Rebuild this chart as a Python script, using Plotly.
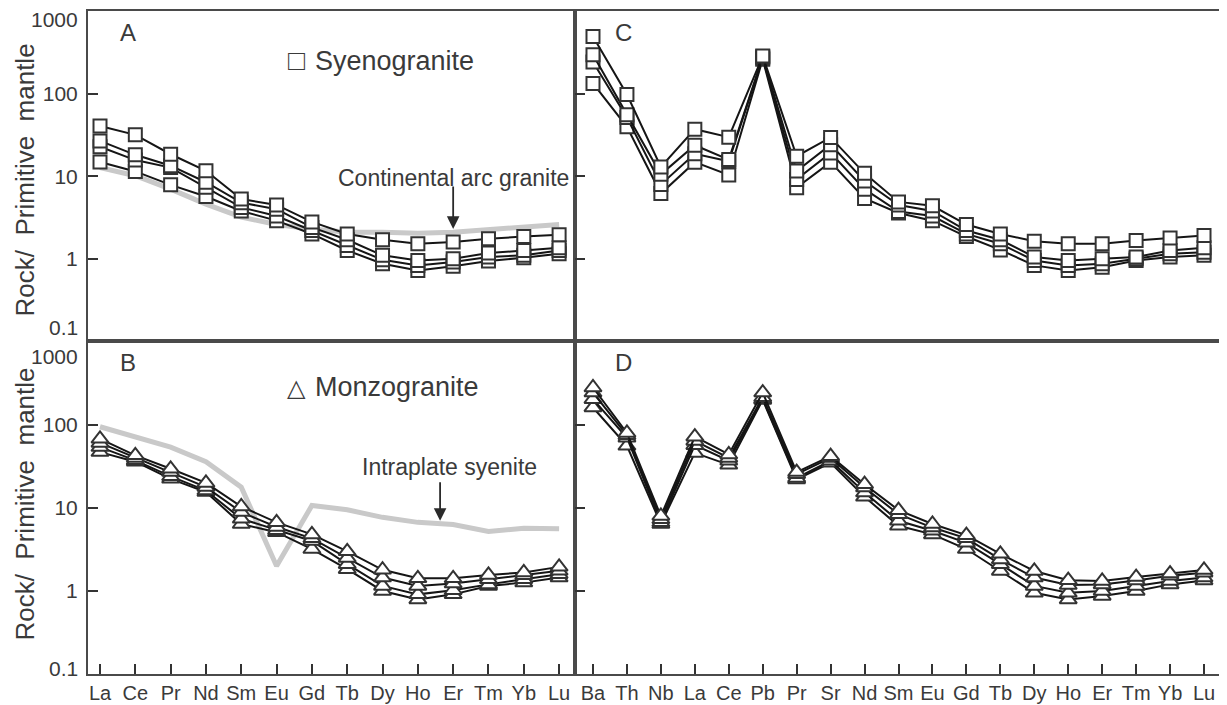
import plotly.graph_objects as go
import math

# ---------------- data ----------------
ree = ["La", "Ce", "Pr", "Nd", "Sm", "Eu", "Gd", "Tb", "Dy", "Ho", "Er", "Tm", "Yb", "Lu"]
spider = ["Ba", "Th", "Nb", "La", "Ce", "Pb", "Pr", "Sr", "Nd", "Sm", "Eu", "Gd", "Tb",
          "Dy", "Ho", "Er", "Tm", "Yb", "Lu"]

# Panel A: syenogranite, REE / primitive mantle
syeno_ree_1 = [41, 32, 18.6, 11.7, 5.3, 4.5, 2.8, 2.0, 1.7, 1.52, 1.6, 1.75, 1.86, 1.95]
syeno_ree_2 = [27, 18.3, 13.5, 8.5, 4.8, 4.0, 2.4, 1.7, 1.1, 0.95, 1.0, 1.17, 1.26, 1.36]
syeno_ree_3 = [22.9, 15.8, 12.8, 7.4, 4.2, 3.3, 2.2, 1.45, 0.97, 0.83, 0.91, 1.05, 1.1, 1.26]
syeno_ree_4 = [15, 11.5, 7.9, 5.7, 3.8, 2.9, 2.0, 1.26, 0.87, 0.72, 0.81, 0.94, 1.03, 1.15]
continental_arc_granite = [12.8, 10.2, 7.0, 4.6, 3.2, 2.6, 2.3, 2.1, 2.1, 2.04, 2.1, 2.24, 2.4, 2.6]

# Panel B: monzogranite, REE / primitive mantle
monzo_ree_1 = [68, 43, 29.6, 20, 10.4, 6.7, 4.8, 3.0, 1.8, 1.42, 1.42, 1.56, 1.67, 1.95]
monzo_ree_2 = [60.6, 40, 27, 17.8, 8.9, 5.9, 4.3, 2.5, 1.45, 1.15, 1.23, 1.38, 1.55, 1.75]
monzo_ree_3 = [54, 37.4, 24, 16.2, 7.4, 5.4, 4.0, 2.1, 1.15, 0.91, 1.02, 1.2, 1.38, 1.59]
monzo_ree_4 = [47, 36, 22.4, 15.5, 6.4, 5.1, 3.2, 1.83, 1.0, 0.79, 0.91, 1.15, 1.26, 1.45]
intraplate_syenite = [95, 72, 54, 36, 17.8, 2.0, 10.7, 9.5, 7.7, 6.7, 6.3, 5.2, 5.7, 5.6]

# Panel C: syenogranite, trace elements / primitive mantle
syeno_tr_1 = [500, 99, 13, 37.5, 30, 290, 17.6, 29.8, 10.9, 4.9, 4.4, 2.6, 2.0, 1.63, 1.52, 1.52, 1.66, 1.79, 1.91]
syeno_tr_2 = [300, 56, 10.6, 23.9, 16, 285, 11.6, 24.3, 8.8, 4.5, 3.8, 2.2, 1.7, 1.05, 0.95, 1.0, 1.05, 1.26, 1.36]
syeno_tr_3 = [245, 52, 8.0, 18.8, 15.3, 275, 9.2, 19.3, 7.0, 3.75, 3.3, 2.0, 1.52, 0.95, 0.83, 0.87, 1.0, 1.15, 1.2]
syeno_tr_4 = [135, 40, 6.2, 14.9, 10.4, 265, 7.3, 14.9, 5.4, 3.6, 2.9, 1.86, 1.28, 0.83, 0.72, 0.79, 0.95, 1.05, 1.1]

# Panel D: monzogranite, trace elements / primitive mantle
monzo_tr_1 = [282, 80, 8.0, 72, 44, 245, 27, 42, 19.3, 9.4, 6.4, 4.7, 2.8, 1.74, 1.35, 1.32, 1.47, 1.62, 1.79]
monzo_tr_2 = [245, 75, 7.3, 64, 40, 215, 25.5, 40, 17.6, 8.4, 5.8, 4.3, 2.4, 1.45, 1.18, 1.2, 1.34, 1.52, 1.66]
monzo_tr_3 = [204, 70, 6.7, 57, 37, 205, 23, 37, 15.3, 7.0, 5.3, 3.8, 2.1, 1.15, 0.95, 1.0, 1.15, 1.32, 1.45]
monzo_tr_4 = [162, 56, 6.4, 46, 33, 200, 22, 35, 13.6, 6.1, 4.8, 3.2, 1.74, 0.95, 0.79, 0.87, 1.0, 1.2, 1.34]

y_ticks = [1, 10, 100]

# ---------------- style ----------------
FONT = "Liberation Sans, Arial, sans-serif"
TXT = "#3a3a3a"
FRAME = "#4a4a4a"
LINE = "#151515"
GREY = "#c9c9c9"

fig = go.Figure()

def add_series(x, y, xa, ya, symbol, size):
    fig.add_trace(go.Scatter(
        x=x, y=y, xaxis=xa, yaxis=ya, mode="lines+markers",
        line=dict(color=LINE, width=2),
        marker=dict(symbol=symbol, size=size, color="white",
                    line=dict(color="#333333", width=2)),
        showlegend=False, hoverinfo="skip"))

def add_grey(x, y, xa, ya):
    fig.add_trace(go.Scatter(
        x=x, y=y, xaxis=xa, yaxis=ya, mode="lines",
        line=dict(color=GREY, width=5), showlegend=False, hoverinfo="skip"))

# A
add_grey(ree, continental_arc_granite, "x", "y")
for s in [syeno_ree_4, syeno_ree_3, syeno_ree_2, syeno_ree_1]:
    add_series(ree, s, "x", "y", "square", 13)
# C
for s in [syeno_tr_4, syeno_tr_3, syeno_tr_2, syeno_tr_1]:
    add_series(spider, s, "x2", "y2", "square", 13)
# B
add_grey(ree, intraplate_syenite, "x3", "y3")
for s in [monzo_ree_4, monzo_ree_3, monzo_ree_2, monzo_ree_1]:
    add_series(ree, s, "x3", "y3", "triangle-up", 15)
# D
for s in [monzo_tr_4, monzo_tr_3, monzo_tr_2, monzo_tr_1]:
    add_series(spider, s, "x4", "y4", "triangle-up", 15)

# The page body has an 8px margin, so the figure is 8px smaller than the window
W, H = 1219, 697
ML, MT, MR, MB = 80, 1, 5, 27
PW = W - ML - MR        # 1134
PH = H - MT - MB        # 669

def px_x(page_x):
    return (page_x - 8 - ML) / PW

def px_y(page_y):
    return (H - MB - (page_y - 8)) / PH

XSPLIT = px_x(575)
YSPLIT = px_y(342)
YR = [-1.0, 3.01]

def xax(domain, cats, rng, anchor, labels):
    return dict(domain=domain, anchor=anchor, type="category",
                categoryorder="array", categoryarray=cats, range=rng,
                showline=True, mirror=True, linecolor=FRAME, linewidth=2,
                showgrid=False, zeroline=False,
                ticks="inside" if labels else "", ticklen=10, tickwidth=1.5,
                tickcolor="#333", showticklabels=labels,
                tickfont=dict(family=FONT, size=20, color=TXT))

def yax(domain, anchor, labels):
    return dict(domain=domain, anchor=anchor, type="log", range=YR,
                tickvals=y_ticks, ticktext=[str(v) for v in y_ticks],
                showline=True, mirror=True, linecolor=FRAME, linewidth=2,
                showgrid=False, zeroline=False,
                ticks="inside", ticklen=10, tickwidth=1.5, tickcolor="#333",
                showticklabels=labels, ticklabelstandoff=4,
                tickfont=dict(family=FONT, size=21, color=TXT))

left_rng = [-0.34, 13.45]
right_rng = [-0.53, 18.53]

annotations = []

def ann(text, x, y, xref, yref, size, xanchor="center", yanchor="middle", angle=0):
    annotations.append(dict(text=text, x=x, y=y, xref=xref, yref=yref,
                            showarrow=False, xanchor=xanchor, yanchor=yanchor,
                            textangle=angle,
                            font=dict(family=FONT, size=size, color=TXT)))

# y-extreme labels (placed slightly inside the frame like the original)
for txt, ypx in [("1000", 18), ("0.1", 328), ("1000", 358), ("0.1", 672)]:
    ann(txt, px_x(80), px_y(ypx), "paper", "paper", 21, xanchor="right")

# y titles
for ypx in [180, 507]:
    ann("Rock/  Primitive  mantle", px_x(25), px_y(ypx), "paper", "paper", 26, angle=-90)

# panel letters
LW = 575 - 88
RW = 1222 - 575
ann("A", (128 - 88) / LW, math.log10(560), "x domain", "y", 24)
ann("B", (128 - 88) / LW, math.log10(560), "x3 domain", "y3", 24)
ann("C", (623 - 575) / RW, math.log10(560), "x2 domain", "y2", 24)
ann("D", (623 - 575) / RW, math.log10(560), "x4 domain", "y4", 24)

# legend-like labels
ann("□", (296 - 88) / LW, math.log10(255), "x domain", "y", 28)
ann("Syenogranite", (313 - 88) / LW, math.log10(250), "x domain", "y", 27, xanchor="left")
ann("△", (296 - 88) / LW, math.log10(280), "x3 domain", "y3", 24)
ann("Monzogranite", (313 - 88) / LW, math.log10(285), "x3 domain", "y3", 27, xanchor="left")

# reference-curve labels and arrows
ann("Continental arc granite", 10, math.log10(9.7), "x", "y", 23)
ann("Intraplate syenite", 9.9, math.log10(31), "x3", "y3", 23)
annotations.append(dict(x=10, y=math.log10(2.3), xref="x", yref="y", text="",
                        showarrow=True, arrowhead=2, arrowsize=1.4, arrowwidth=1.8,
                        arrowcolor="#2a2a2a", ax=0, ay=-44))
annotations.append(dict(x=9.63, y=math.log10(7.0), xref="x3", yref="y3", text="",
                        showarrow=True, arrowhead=2, arrowsize=1.4, arrowwidth=1.8,
                        arrowcolor="#2a2a2a", ax=0, ay=-40))

fig.update_layout(
    width=W, height=H,
    margin=dict(l=ML, r=MR, t=MT, b=MB),
    paper_bgcolor="white", plot_bgcolor="white",
    showlegend=False,
    xaxis=xax([0, XSPLIT], ree, left_rng, "y", False),
    yaxis=yax([YSPLIT, 1], "x", True),
    xaxis2=xax([XSPLIT, 1], spider, right_rng, "y2", False),
    yaxis2=yax([YSPLIT, 1], "x2", False),
    xaxis3=xax([0, XSPLIT], ree, left_rng, "y3", True),
    yaxis3=yax([0, YSPLIT], "x3", True),
    xaxis4=xax([XSPLIT, 1], spider, right_rng, "y4", True),
    yaxis4=yax([0, YSPLIT], "x4", False),
    annotations=annotations,
)

fig.write_html("out.html")
